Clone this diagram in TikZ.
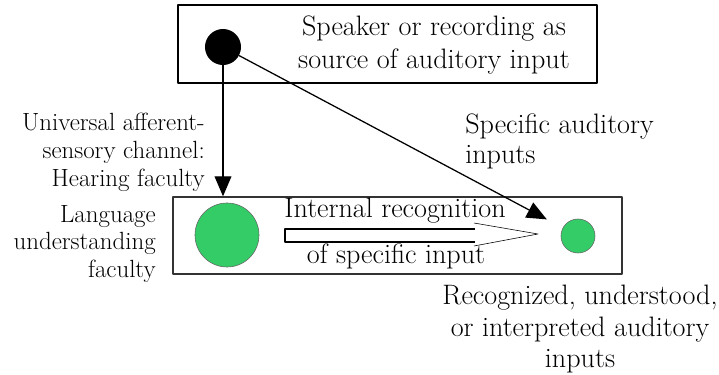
\documentclass[tikz,border=0pt]{standalone}
\usetikzlibrary{arrows.meta}
\definecolor{facgreen}{RGB}{51,204,102}
\begin{document}
\begin{tikzpicture}[x=0.025cm, y=-0.025cm, >={Triangle[length=0.5cm,width=0.42cm]}, line join=round,
	txt/.style={font=\fontsize{20}{24}\selectfont, inner sep=0pt, align=center},
	sidetxt/.style={font=\fontsize{17.7}{19.8}\selectfont, inner sep=0pt, align=right, anchor=east},
	frame/.style={draw, line width=1pt, inner sep=0pt}]
	\useasboundingbox (0,0) rectangle (719,375);
	% boxes
	\node[frame, minimum width=10.475cm, minimum height=1.95cm] (topbox) at (387.5,44) {};
	\node[frame, draw=black!80, minimum width=11.225cm, minimum height=1.925cm] (lowbox) at (397.5,235.5) {};
	% dots
	\node[circle, fill=black, minimum size=0.9cm, inner sep=0pt] (spk) at (223,47) {};
	\node[circle, fill=facgreen, draw=black!60, minimum size=1.6cm, inner sep=0pt] (luf) at (227,235) {};
	\node[circle, fill=facgreen, draw=black!60, minimum size=0.85cm, inner sep=0pt] (rec) at (578,236) {};
	% texts
	\node[txt] (srctxt) at (434,45) {Speaker or recording as\\source of auditory input};
	\node[sidetxt] (chantxt) at (205,152) {Universal afferent-\\sensory channel:\\Hearing faculty};
	\node[sidetxt] (luftxt) at (156,244) {Language\\understanding\\faculty};
	\node[txt, align=left, anchor=west, font=\fontsize{20}{21.5}\selectfont] (spectxt) at (465,141) {Specific auditory\\inputs};
	\node[txt, anchor=base] (irectxt) at (395,217) {Internal recognition};
	\node[txt, anchor=base] (ofspec) at (396,263) {of specific input};
	\node[txt, font=\fontsize{20}{22.2}\selectfont] (rectxt) at (580,329) {Recognized, understood,\\or interpreted auditory\\inputs};
	% arrows
	\draw[->, line width=1pt] (spk.south) -- (spk.south |- lowbox.north);
	\draw[->, line width=0.9pt, shorten >=0.45cm] (spk) -- (rec);
	% hollow arrow
	\draw[line width=1.1pt] (475,229) -- (285,229) -- (285,242) -- (475,242);
	\draw[thin] (474,223) -- (538,234) -- (474,246);
\end{tikzpicture}
\end{document}
